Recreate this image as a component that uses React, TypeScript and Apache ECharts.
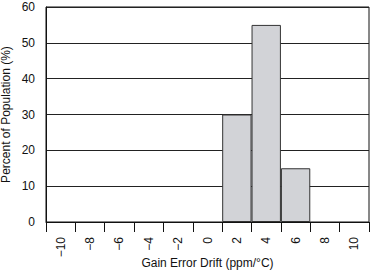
import React, { useEffect, useRef } from "react";
import * as echarts from "echarts";

const categories = ["−10", "−8", "−6", "−4", "−2", "0", "2", "4", "6", "8", "10"];
const percentValues: (number | string)[] = ["-", "-", "-", "-", "-", "-", 30, 55, 15, "-", "-"];
const yTicks = { min: 0, max: 60, interval: 10 };

export default function App() {
  const ref = useRef<HTMLDivElement>(null);
  useEffect(() => {
    if (!ref.current) return;
    const chart = echarts.init(ref.current, null, { renderer: "svg" });
    const font = "Liberation Sans, Arial, sans-serif";
    chart.setOption({
      animation: false,
      grid: {
        left: 46,
        right: 1,
        top: 7,
        bottom: 52,
        show: true,
        borderColor: "#111",
        borderWidth: 1,
        containLabel: false,
        outerBoundsMode: "none",
      },
      xAxis: {
        type: "category",
        data: categories,
        boundaryGap: true,
        name: "Gain Error Drift (ppm/°C)",
        nameLocation: "middle",
        nameGap: 35,
        nameMoveOverlap: false,
        nameTextStyle: { fontFamily: font, fontSize: 12, color: "#111" },
        axisLine: { lineStyle: { color: "#111", width: 1 } },
        axisTick: { show: true, length: 10, alignWithLabel: false, lineStyle: { color: "#111" } },
        axisLabel: {
          rotate: 90,
          margin: 15,
          fontFamily: font,
          fontSize: 12,
          color: "#111",
          interval: 0,
        },
        splitLine: { show: false },
      },
      yAxis: {
        type: "value",
        min: yTicks.min,
        max: yTicks.max,
        interval: yTicks.interval,
        name: "Percent of Population (%)",
        nameLocation: "middle",
        nameGap: 34,
        nameMoveOverlap: false,
        nameTextStyle: { fontFamily: font, fontSize: 12, color: "#111" },
        axisLine: { show: true, lineStyle: { color: "#111", width: 1 } },
        axisTick: { show: false },
        axisLabel: { margin: 11, fontFamily: font, fontSize: 12, color: "#111" },
        splitLine: { show: true, lineStyle: { color: "#222", width: 1 } },
      },
      series: [
        {
          type: "bar",
          data: percentValues,
          barWidth: "100%",
          itemStyle: { color: "#d2d3d7", borderColor: "#333", borderWidth: 1 },
        },
      ],
    });
    return () => chart.dispose();
  }, []);
  return <div ref={ref} style={{ width: 370, height: 274, position: "absolute", left: 0, top: 0 }} />;
}
